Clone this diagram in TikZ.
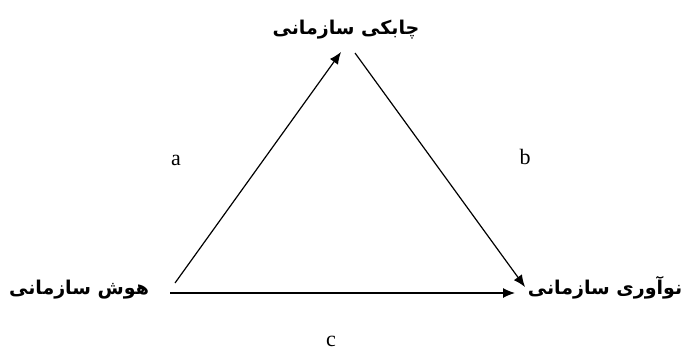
\documentclass[tikz,border=0pt]{standalone}
\usepackage{fontspec}
\setmainfont{Liberation Serif}
\newfontfamily\arabicfont[Script=Arabic]{DejaVu Sans}
\TeXXeTstate=1
\usetikzlibrary{arrows.meta}
\begin{document}
\begin{tikzpicture}[x=1pt,y=-1pt,
  fa/.style={font=\arabicfont\bfseries\fontsize{19}{22}\selectfont, inner sep=0pt},
  lab/.style={font=\fontsize{22}{24}\selectfont, inner sep=0pt},
  conn/.style={line width=1.2pt, -{Latex[length=12pt,width=10pt]}}]
\useasboundingbox (0,0) rectangle (684,360);
\fill[white] (0,0) rectangle (684,360);
\node[fa] (top) at (346,30) {\beginR چابکی سازمانی\endR};
\node[fa] (left) at (79,290) {\beginR هوش سازمانی\endR};
\node[fa] (right) at (605,288) {\beginR نوآوری سازمانی\endR};
\coordinate (l1) at (175,283);
\coordinate (t1) at (341,52);
\coordinate (t2) at (355,53);
\coordinate (r1) at (525,287);
\coordinate (l2) at (170,293);
\coordinate (r2) at (515,293);
\draw[conn] (l1) -- (t1);
\draw[conn] (t2) -- (r1);
\draw[conn] (l2) -- (r2);
\node[lab] (a) at (176,160) {a};
\node[lab] (b) at (525,157) {b};
\node[lab] (c) at (331,341) {c};
\end{tikzpicture}
\end{document}
